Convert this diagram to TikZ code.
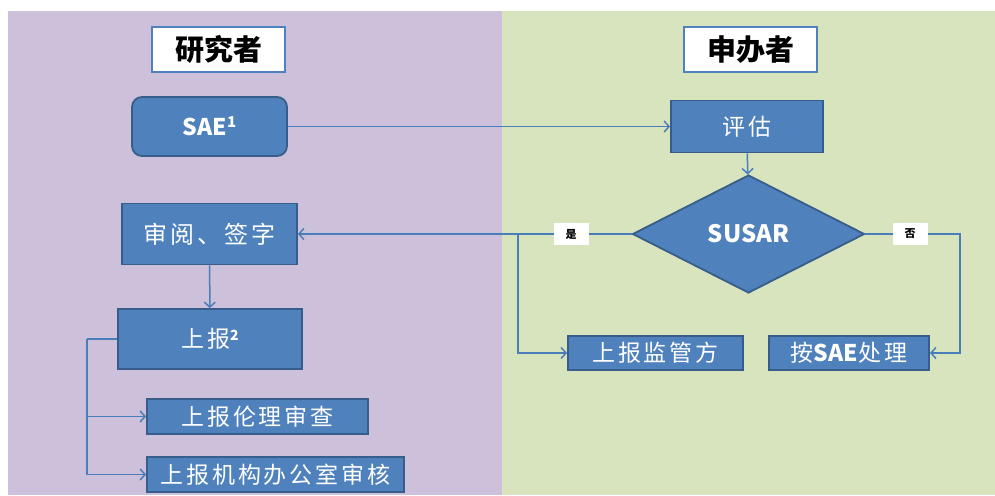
\documentclass[tikz,border=0pt]{standalone}
\usepackage{fontspec}
\newfontfamily\cjk{Noto Sans CJK SC}
\newfontfamily\cjkw[LetterSpace=12]{Noto Sans CJK SC}
\usetikzlibrary{shapes.geometric,arrows.meta}
\definecolor{bgL}{HTML}{CCC0DA}
\definecolor{bgR}{HTML}{D7E4BD}
\definecolor{boxF}{HTML}{4F81BD}
\definecolor{boxB}{HTML}{385D8A}
\definecolor{lineC}{HTML}{4A7EBB}
\begin{document}
\begin{tikzpicture}[x=1pt,y=-1pt,
  box/.style={draw=boxB, line width=1.8pt, fill=boxF, text=white, inner sep=0pt,
    font=\cjkw\fontsize{23}{26}\selectfont},
  titlebox/.style={draw=boxF, line width=2pt, fill=white, text=black, inner sep=0pt,
    minimum width=133pt, minimum height=45pt, font=\cjk\bfseries\fontsize{29}{32}\selectfont},
  lbl/.style={fill=white, text=black, inner sep=0pt, minimum width=35pt, minimum height=22pt,
    font=\cjk\bfseries\fontsize{11}{12}\selectfont},
  conn/.style={draw=lineC, line width=1.5pt},
  arr/.style={conn, -{Straight Barb[length=5pt,width=11pt,line width=1.5pt]}}
]
\useasboundingbox (0,0) rectangle (995,495);
\fill[bgL] (8,11) rectangle (502,495);
\fill[bgR] (502,11) rectangle (995,495);

\node[titlebox] (t1) at (218.5,49.5) {研究者};
\node[titlebox] (t2) at (750.5,49.5) {申办者};

\node[box, rounded corners=10pt, minimum width=155pt, minimum height=59pt,
  font=\cjk\bfseries\fontsize{23}{26}\selectfont] (sae) at (209.5,126.5) {SAE\raisebox{0.35em}{\fontsize{15}{16}\selectfont 1}};
\node[box, minimum width=152pt, minimum height=52pt] (pg) at (747,126.5) {评\,估};
\node[box, diamond, aspect=1.97, minimum width=232pt, minimum height=118pt,
  font=\cjk\bfseries\fontsize{24}{26}\selectfont] (dia) at (748.5,234) {SUSAR};
\node[box, minimum width=175pt, minimum height=61pt, font=\cjkw\fontsize{24}{26}\selectfont] (sy) at (209.5,234) {审阅、签字};
\node[box, minimum width=184pt, minimum height=60pt] (sb) at (210,339) {上报\raisebox{0.3em}{\cjk\bfseries\fontsize{14}{15}\selectfont 2}};
\node[box, minimum width=221pt, minimum height=35pt] (e1) at (257.5,416.5) {上报伦理审查};
\node[box, minimum width=257pt, minimum height=35pt] (e2) at (275.5,474.5) {上报机构办公室审核};
\node[box, minimum width=175pt, minimum height=34pt] (jg) at (655.5,353) {上报监管方};
\node[box, minimum width=160pt, minimum height=34pt] (an) at (849,353) {按{\cjk\bfseries SAE}处理};

\draw[arr] (sae) -- (pg);
\draw[arr] (pg) -- (dia);
\draw[arr] (dia.west) -- (sy.east);
\coordinate (br) at (518,234);
\draw[arr] (br) |- (jg.west);
\coordinate (nr) at (960,234);
\draw[arr] (dia.east) -- (nr) |- (an.east);
\draw[arr] (sy) -- (sb);
\coordinate (bl) at (87,339);
\draw[conn] (sb.west) -- (bl);
\draw[arr] (bl) |- (e1.west);
\draw[arr] (bl) |- (e2.west);

\node[lbl] (yes) at (571,234) {是};
\node[lbl] (no) at (910,234) {否};
\end{tikzpicture}
\end{document}
